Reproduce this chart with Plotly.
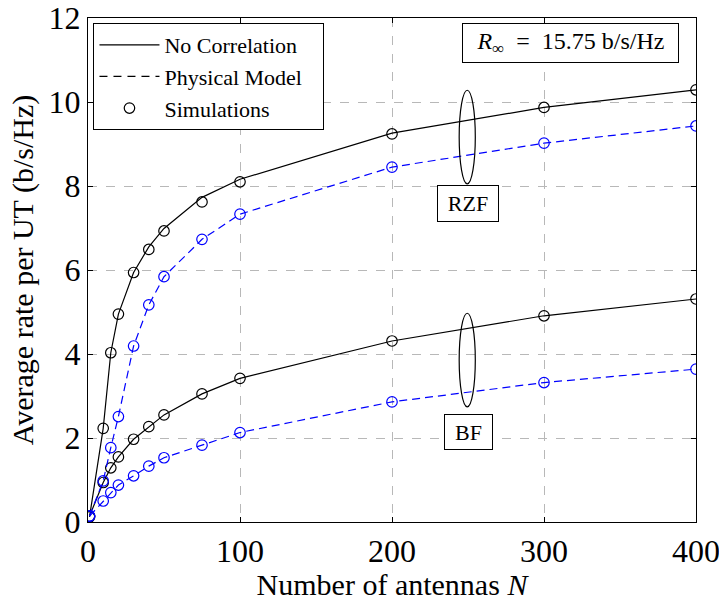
import plotly.graph_objects as go

# ---- data ----
N = [1, 10, 15, 20, 30, 40, 50, 75, 100, 200, 300, 400]
rzf_nocorr_theory = [0.12, 2.23, 4.03, 4.95, 5.94, 6.55, 6.99, 7.73, 8.16, 9.26, 9.87, 10.29]
rzf_nocorr_sim = [0.12, 2.23, 4.03, 4.95, 5.94, 6.49, 6.93, 7.62, 8.10, 9.24, 9.87, 10.29]
rzf_phys = [0.14, 0.98, 1.77, 2.51, 4.19, 5.17, 5.84, 6.73, 7.33, 8.45, 9.02, 9.43]
bf_nocorr = [0.14, 0.94, 1.29, 1.55, 1.97, 2.27, 2.55, 3.05, 3.42, 4.31, 4.91, 5.31]
bf_phys = [0.14, 0.50, 0.70, 0.88, 1.10, 1.33, 1.53, 1.83, 2.13, 2.86, 3.32, 3.64]

x_ticks = [0, 100, 200, 300, 400]
y_ticks = [0, 2, 4, 6, 8, 10, 12]

FONT = "Liberation Serif"
BLUE = "#0000ff"
DASH = "8px,5px"

fig = go.Figure()

def add_series(y_line, y_sim, color, dash):
    fig.add_trace(go.Scatter(x=N, y=y_line, mode="lines",
                             line=dict(color=color, width=1.2, dash=dash),
                             showlegend=False, hoverinfo="skip"))
    fig.add_trace(go.Scatter(x=N, y=y_sim, mode="markers",
                             marker=dict(symbol="circle-open", size=10.5, color=color,
                                         line=dict(width=1.2, color=color)),
                             showlegend=False))

add_series(rzf_nocorr_theory, rzf_nocorr_sim, "black", "solid")
add_series(bf_nocorr, bf_nocorr, "black", "solid")
add_series(rzf_phys, rzf_phys, BLUE, DASH)
add_series(bf_phys, bf_phys, BLUE, DASH)

# legend entries
fig.add_trace(go.Scatter(x=[None], y=[None], mode="lines", name="No Correlation",
                         legendgroup="a", line=dict(color="black", width=1.2)))
fig.add_trace(go.Scatter(x=[None], y=[None], mode="lines",
                         name="Physical Model\u00a0\u00a0\u00a0",
                         legendgroup="b", line=dict(color="black", width=1.2, dash="8px,6px")))
fig.add_trace(go.Scatter(x=[None], y=[None], mode="markers", name="Simulations",
                         legendgroup="c",
                         marker=dict(symbol="circle-open", size=10.5, color="black",
                                     line=dict(width=1.2, color="black"))))

# ellipses
fig.add_shape(type="circle", xref="x", yref="y", x0=244.2, x1=254.8, y0=8.05, y1=10.28,
              line=dict(color="black", width=1.2))
fig.add_shape(type="circle", xref="x", yref="y", x0=244.2, x1=254.8, y0=2.74, y1=4.97,
              line=dict(color="black", width=1.2))

# labels
fig.add_annotation(x=250, y=7.58, xref="x", yref="y", text="RZF", showarrow=False,
                   xanchor="center", yanchor="middle",
                   font=dict(family=FONT, size=22, color="black"), width=50, height=25,
                   bordercolor="black", borderwidth=1, borderpad=5, bgcolor="white")
fig.add_annotation(x=250, y=2.14, xref="x", yref="y", text="BF", showarrow=False,
                   xanchor="center", yanchor="middle",
                   font=dict(family=FONT, size=22, color="black"), width=37, height=24,
                   bordercolor="black", borderwidth=1, borderpad=5, bgcolor="white")
fig.add_annotation(x=0.793, y=0.951, xref="paper", yref="paper",
                   xanchor="center", yanchor="middle",
                   text="<i>R</i><sub>∞</sub>  =  15.75 b/s/Hz", showarrow=False,
                   font=dict(family=FONT, size=24, color="black"), width=205, height=28,
                   bordercolor="black", borderwidth=1, borderpad=5, bgcolor="white")

axis_common = dict(showline=True, linecolor="black", linewidth=1.2, mirror="allticks",
                   ticks="inside", ticklen=5, tickcolor="black", tickwidth=1,
                   showgrid=True, gridcolor="#b8b8b8", griddash="dash", gridwidth=1,
                   zeroline=False, ticklabeloverflow="allow",
                   tickfont=dict(family=FONT, size=32, color="black"))

fig.update_xaxes(range=[0, 400], tickvals=x_ticks, ticktext=[str(v) for v in x_ticks],
                 title=dict(text="Number of antennas <i>N</i>",
                            font=dict(family=FONT, size=30, color="black"), standoff=14),
                 **axis_common)
fig.update_yaxes(range=[0, 12], tickvals=y_ticks, ticktext=[str(v) for v in y_ticks],
                 title=dict(text="Average rate per UT (b/s/Hz)",
                            font=dict(family=FONT, size=30, color="black"), standoff=6),
                 **axis_common)

fig.update_layout(
    width=719, height=601,
    margin=dict(l=87.5, r=23, t=18, b=79, autoexpand=False),
    plot_bgcolor="white", paper_bgcolor="white",
    legend=dict(x=0.009, y=0.99, xanchor="left", yanchor="top",
                bordercolor="black", borderwidth=1, bgcolor="white",
                font=dict(family=FONT, size=22, color="black"),
                itemwidth=60, tracegroupgap=0),
)

fig.write_html("out.html", config={"displayModeBar": False},
               post_script="document.body.style.margin='0';")
